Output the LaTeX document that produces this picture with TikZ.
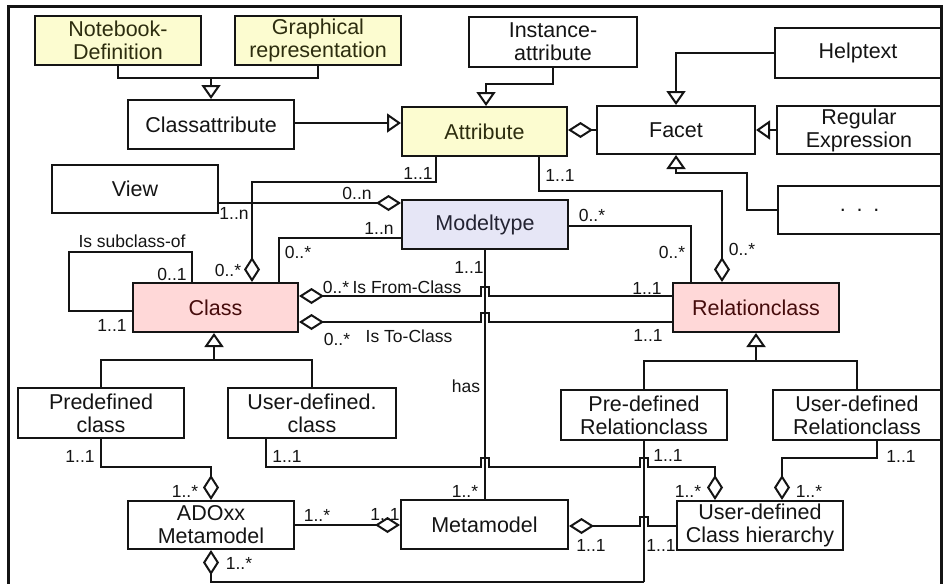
\documentclass[tikz,border=0pt]{standalone}
\usepackage{fontspec}
\setmainfont{Liberation Sans}
\usetikzlibrary{arrows.meta,calc}

\definecolor{ink}{RGB}{20,20,20}
\definecolor{notefill}{RGB}{252,252,208}
\definecolor{notetext}{RGB}{45,45,15}
\definecolor{typefill}{RGB}{230,230,246}
\definecolor{typetext}{RGB}{35,35,50}
\definecolor{classfill}{RGB}{255,216,216}
\definecolor{classtext}{RGB}{70,12,12}

\newcommand\boxfont{\fontsize{21.5}{23}\selectfont}
\newcommand\lblfont{\fontsize{17.5}{19}\selectfont}

\tikzset{
  box/.style={draw=ink, line width=2pt, rectangle, inner sep=0pt,
    align=center, font=\boxfont, text=ink},
  notebox/.style={box, fill=notefill, text=notetext},
  typebox/.style={box, fill=typefill, text=typetext},
  classbox/.style={box, fill=classfill, text=classtext},
  lbl/.style={inner sep=0pt, font=\lblfont, text=ink},
  line/.style={draw=ink, line width=2pt},
  gen/.style={line, -{Triangle[open, length=14pt, width=19pt]}},
  agg/.style={line, -{Diamond[open, length=25pt, width=16pt]}},
  aggs/.style={line, {Diamond[open, length=25pt, width=16pt]}-},
  frame/.style={draw=ink, line width=3pt},
}

\begin{document}
\begin{tikzpicture}[x=1pt,y=-1pt]
\useasboundingbox (0,0) rectangle (943,584);

% outer frame
\draw[frame] (8,600) -- (8,6) -- (941,6) -- (941,600);

% ---------- boxes ----------
\node[notebox, minimum width=166pt, minimum height=49pt] (nb) at (118,40.5) {Notebook-\\Definition};
\node[notebox, minimum width=166pt, minimum height=49pt] (gr) at (318,40.5) {Graphical\\representation};
\node[box, minimum width=166pt, minimum height=49pt] (ca) at (211,124.5) {Classattribute};
\node[box, minimum width=168pt, minimum height=50pt] (ia) at (553,42) {Instance-\\attribute};
\node[notebox, minimum width=165pt, minimum height=49pt] (attr) at (484.5,131.5) {Attribute};
\node[box, minimum width=158pt, minimum height=48pt] (facet) at (676,130) {Facet};
\node[box, minimum width=166pt, minimum height=50pt] (help) at (858,53) {Helptext};
\node[box, minimum width=164pt, minimum height=48pt] (regex) at (859,130) {Regular\\Expression};
\node[box, minimum width=163pt, minimum height=48pt] (dots) at (859.5,210) {.\,\,\,.\,\,\,.};
\node[box, minimum width=166pt, minimum height=48pt] (view) at (135,189) {View};
\node[typebox, minimum width=166pt, minimum height=49pt] (mt) at (485,224.5) {Modeltype};
\node[classbox, minimum width=165pt, minimum height=49pt] (class) at (215.5,307.5) {Class};
\node[classbox, minimum width=166pt, minimum height=49pt] (rel) at (756,307.5) {Relationclass};
\node[box, minimum width=166pt, minimum height=50pt] (pdc) at (101,413) {Predefined\\class};
\node[box, minimum width=168pt, minimum height=50pt] (udc) at (312,413) {User-defined.\\class};
\node[box, minimum width=166pt, minimum height=50pt] (pdr) at (644,415) {Pre-defined\\Relationclass};
\node[box, minimum width=168pt, minimum height=50pt] (udr) at (857,415) {User-defined\\Relationclass};
\node[box, minimum width=166pt, minimum height=48pt] (ado) at (211,525) {ADOxx\\Metamodel};
\node[box, minimum width=167pt, minimum height=49pt] (meta) at (484.5,524.5) {Metamodel};
\node[box, minimum width=166pt, minimum height=49pt] (uch) at (760,525.5) {User-defined\\Class hierarchy};

% ---------- attribute part ----------
\draw[line] (nb.south) -- ++(0,12) coordinate (nj) -| (gr.south);
\draw[gen] (nj -| ca.north) -- (ca.north);
\draw[gen] ([yshift=1.5pt]ca.east) coordinate (ce) -- (ce -| attr.west);
\draw[gen] (ia.south) -- ++(0,16) -| ([xshift=1.5pt]attr.north);
\draw[agg] (facet.west) -- (facet.west -| attr.east);
\draw[gen] (help.west) -| (facet.north);
\draw[gen] (regex.west) -- (facet.east);
\draw[gen] (dots.west) -- ++(-30,0) -- ++(0,-37) -| (facet.south);

\draw[agg] ([xshift=-48.5pt]attr.south) -- ++(0,25) -| ([xshift=36.5pt]class.north);
\draw[agg] ([xshift=54.5pt]attr.south) -- ++(0,34) -| ([xshift=-34pt]rel.north);

% ---------- model type part ----------
\draw[agg] ([yshift=-14pt]view.east) coordinate (vw) -- (vw -| mt.west);
\draw[line] ([yshift=-13.5pt]mt.west) -| ([xshift=63.5pt]class.north);
\draw[line] ([yshift=-1.5pt]mt.east) -| ([xshift=-65pt]rel.north);
\draw[line] (mt.south) -- (mt.south |- meta.north);

% class self reference
\draw[line] ([xshift=-23.5pt]class.north) -- ++(0,-30) -- ++(-123,0) |- ([yshift=-3.5pt]class.west);

% class -- relationclass (hopping over the "has" line)
\draw[aggs] ([yshift=11.5pt]class.east) coordinate (fc)
  -- ($(fc -| mt.south)+(-4,0)$) -- ++(0,-9) -- ++(8,0) -- ++(0,9) -- (fc -| rel.west);
\draw[aggs] ([yshift=-14.5pt]class.east) coordinate (tc)
  -- ($(tc -| mt.south)+(-4,0)$) -- ++(0,-9) -- ++(8,0) -- ++(0,9) -- (tc -| rel.west);

% generalisations of class and relationclass
\draw[line] (pdc.north) -- ++(0,-27) coordinate (cj) -| (udc.north);
\draw[gen] (cj -| class.south) ++(-1.5,0) -- ([xshift=-1.5pt]class.south);
\draw[line] (pdr.north) -- ++(0,-28) coordinate (rj) -| (udr.north);
\draw[gen] (rj -| rel.south) -- (rel.south);

% ---------- metamodel part ----------
\draw[line] (pdr.south) -- ++(0,141) coordinate (pb);
\draw[agg] (pb) -| (ado.south);
\draw[agg] (pdc.south) -- ++(0,28) -| (ado.north);
\draw[agg] (ado.east) -- (ado.east -| meta.west);
\draw[agg] ([xshift=-46pt]udc.south) -- ++(0,28) coordinate (uu)
  -- ($(uu -| mt.south)+(-4,0)$) -- ++(0,-9) -- ++(8,0) -- ++(0,9)
  -- ($(uu -| pdr.south)+(-4,0)$) -- ++(0,-9) -- ++(8,0) -- ++(0,9)
  -| ([xshift=-45pt]uch.north);
\draw[agg] ([xshift=20pt]udr.south) -- ++(0,17) -| ([xshift=22pt]uch.north);
\draw[agg] ([yshift=-0.5pt]uch.west) coordinate (uw)
  -- ($(uw -| pdr.south)+(4,0)$) -- ++(0,-9) -- ++(-8,0) -- ++(0,9) -- (uw -| meta.east);

% ---------- multiplicities and role names ----------
\node[lbl] (m1) at (418,173) {1..1};
\node[lbl] (m2) at (560,175) {1..1};
\node[lbl] (m3) at (357,193) {0..n};
\node[lbl] (m4) at (234,213) {1..n};
\node[lbl] (m5) at (379,228) {1..n};
\node[lbl] (m6) at (298,252) {0..*};
\node[lbl] (m7) at (228,270) {0..*};
\node[lbl] (m8) at (172,274) {0..1};
\node[lbl] (r1) at (132,241) {Is subclass-of};
\node[lbl] (m9) at (112,325) {1..1};
\node[lbl] (m10) at (336,287) {0..*};
\node[lbl] (r2) at (407,287) {Is From-Class};
\node[lbl] (m11) at (337,339) {0..*};
\node[lbl] (r3) at (409,336) {Is To-Class};
\node[lbl] (m12) at (647,288) {1..1};
\node[lbl] (m13) at (648,335) {1..1};
\node[lbl] (m14) at (469,267) {1..1};
\node[lbl] (m15) at (592,215) {0..*};
\node[lbl] (m16) at (672,252) {0..*};
\node[lbl] (m17) at (742,249) {0..*};
\node[lbl] (r4) at (466,386) {has};
\node[lbl] (m18) at (465,491) {1..*};
\node[lbl] (m19) at (80,456) {1..1};
\node[lbl] (m20) at (185,491) {1..*};
\node[lbl] (m21) at (287,456) {1..1};
\node[lbl] (m22) at (317,515) {1..*};
\node[lbl] (m23) at (385,514) {1..1};
\node[lbl] (m24) at (239,563) {1..*};
\node[lbl] (m25) at (591,545) {1..1};
\node[lbl] (m26) at (661,545) {1..1};
\node[lbl] (m27) at (668,455) {1..1};
\node[lbl] (m28) at (688,491) {1..*};
\node[lbl] (m29) at (901,456) {1..1};
\node[lbl] (m30) at (809,491) {1..*};
\end{tikzpicture}
\end{document}
